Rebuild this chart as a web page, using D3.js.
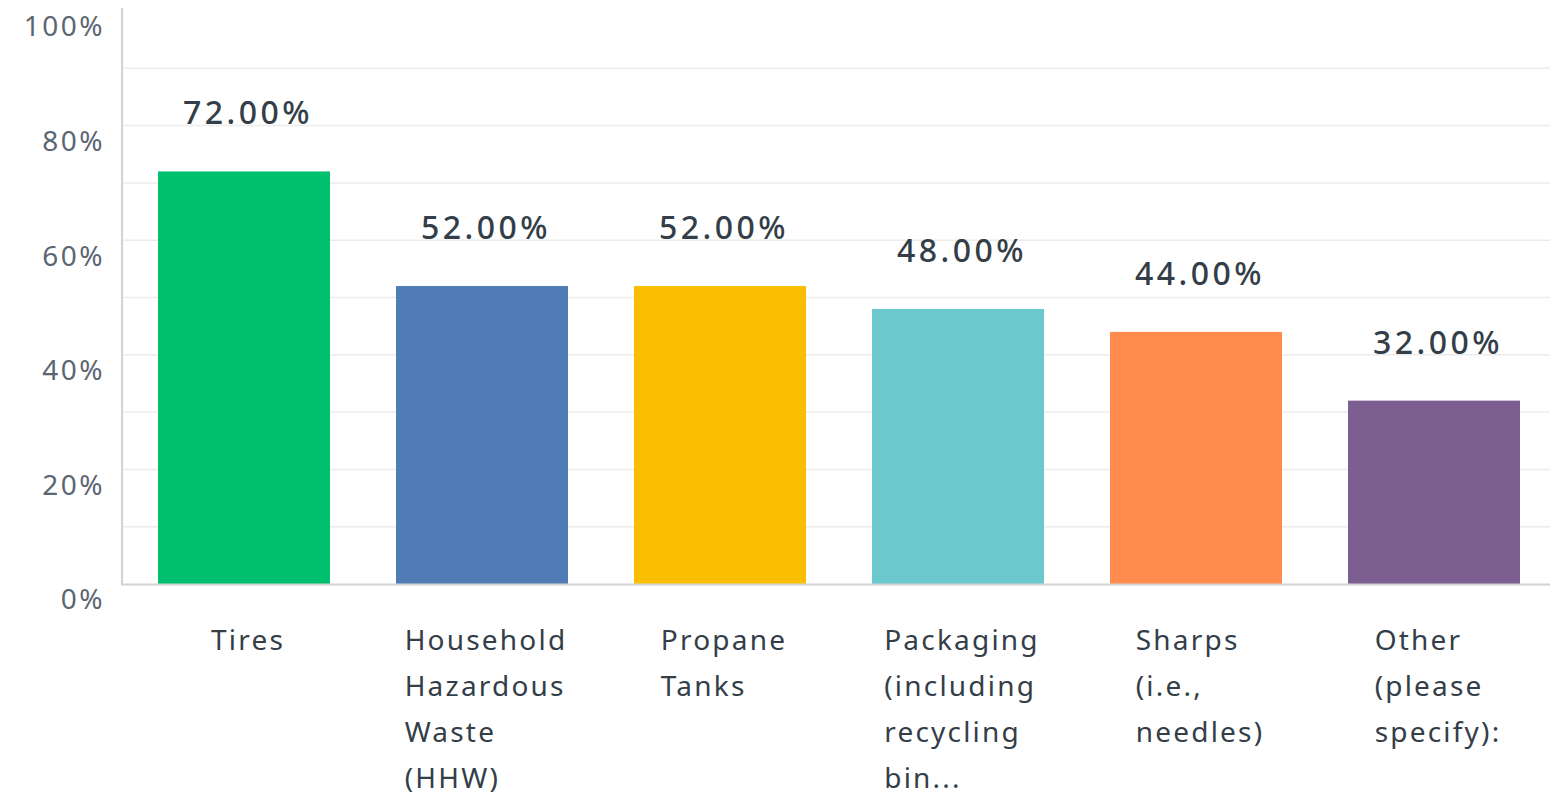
<!DOCTYPE html>
<html>
<head>
<meta charset="utf-8">
<script src="https://cdn.jsdelivr.net/npm/d3@7"></script>
<style>
  html, body { margin: 0; padding: 0; background: #fff; }
  svg { display: block; }
</style>
</head>
<body>
<svg id="chart" width="1558" height="795"></svg>
<script>
// Survey answer choices and share of respondents
const categories = [
  ["Tires"],
  ["Household", "Hazardous", "Waste", "(HHW)"],
  ["Propane", "Tanks"],
  ["Packaging", "(including", "recycling", "bin..."],
  ["Sharps", "(i.e.,", "needles)"],
  ["Other", "(please", "specify):"]
];
const values = [0.72, 0.52, 0.52, 0.48, 0.44, 0.32];
const colors = ["#00bf6f", "#507cb6", "#f9be00", "#6bc8cd", "#ff8b4f", "#7d5e90"];
const yTickValues = [0, 0.2, 0.4, 0.6, 0.8, 1.0];
const gridValues = [0.1, 0.2, 0.3, 0.4, 0.5, 0.6, 0.7, 0.8, 0.9];

const FONT = "'Noto Sans', sans-serif";
const svg = d3.select("#chart");

const x = d3.scaleBand()
  .domain(d3.range(categories.length))
  .range([122, 1556])
  .paddingInner(0.2773)
  .paddingOuter(0.1513);

const y = d3.scaleLinear().domain([0, 1]).range([584, 11]);

// Horizontal gridlines
svg.append("g")
  .selectAll("line")
  .data(gridValues)
  .join("line")
  .attr("x1", 123).attr("x2", 1550)
  .attr("y1", d => y(d)).attr("y2", d => y(d))
  .attr("stroke", "#ececec")
  .attr("stroke-width", 1.5);

// Bars
svg.append("g")
  .selectAll("rect")
  .data(values)
  .join("rect")
  .attr("x", (d, i) => x(i))
  .attr("width", x.bandwidth())
  .attr("y", d => y(d))
  .attr("height", d => y(0) - y(d))
  .attr("fill", (d, i) => colors[i]);

// Axis lines
svg.append("line")
  .attr("x1", 122).attr("x2", 122)
  .attr("y1", 8).attr("y2", 585)
  .attr("stroke", "#d3d3d3").attr("stroke-width", 2);
svg.append("line")
  .attr("x1", 121).attr("x2", 1550)
  .attr("y1", 584.5).attr("y2", 584.5)
  .attr("stroke", "#d3d3d3").attr("stroke-width", 2);

// Y tick labels, hung just below their gridline
const yAxis = d3.axisLeft(y)
  .tickValues(yTickValues)
  .tickFormat(d3.format(".0%"))
  .tickSize(0)
  .tickPadding(0);
const gy = svg.append("g").attr("transform", "translate(105,0)").call(yAxis);
gy.select(".domain").remove();
gy.selectAll("text")
  .attr("dy", "0.32em")
  .attr("y", 16)
  .attr("fill", "#5c6672")
  .style("font-family", FONT)
  .style("font-size", "28px")
  .style("letter-spacing", "2.5px");

// Value labels above bars
svg.append("g")
  .selectAll("text")
  .data(values)
  .join("text")
  .attr("x", (d, i) => x(i) + x.bandwidth() / 2 + 4)
  .attr("y", d => y(d) - 47)
  .attr("text-anchor", "middle")
  .attr("fill", "#333e48")
  .style("font-family", FONT)
  .style("font-size", "32px")
  .style("font-weight", 500)
  .style("letter-spacing", "3.5px")
  .text(d => d3.format(".2%")(d));

// Category labels: left-aligned lines, block centred under each bar
const xl = svg.append("g");
categories.forEach((lines, i) => {
  const t = xl.append("text")
    .attr("fill", "#333e48")
    .style("font-family", FONT)
    .style("font-size", "28px")
    .style("letter-spacing", "2.2px");
  lines.forEach((ln, j) => {
    t.append("tspan").attr("x", 0).attr("y", 650 + j * 46).text(ln);
  });
  const w = t.node().getBBox().width;
  t.attr("transform", `translate(${x(i) + x.bandwidth() / 2 - w / 2 + 4},0)`);
});
</script>
</body>
</html>
